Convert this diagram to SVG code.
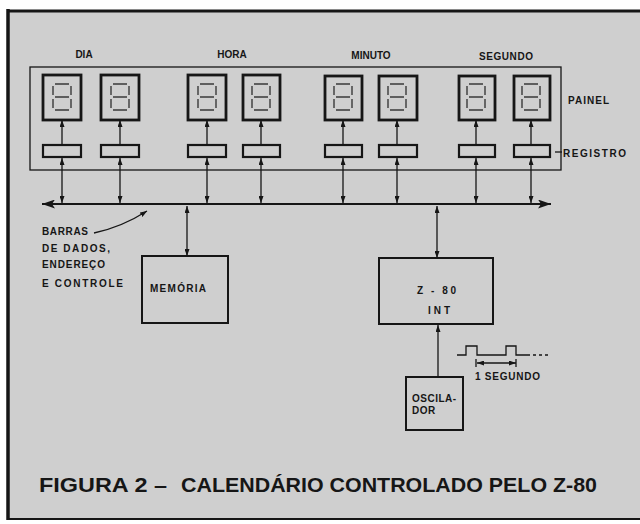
<svg xmlns="http://www.w3.org/2000/svg" width="640" height="524" viewBox="0 0 640 524">
<defs>
<style>
.bx{fill:none;stroke:#161616;stroke-width:2}
.disp{fill:none;stroke:#161616;stroke-width:2.8}
.reg{fill:none;stroke:#161616;stroke-width:2.2}
.seg{fill:none;stroke:#3a3a3a;stroke-width:1.4}
.ln{fill:none;stroke:#161616;stroke-width:1.3}
.t{font-family:"Liberation Sans",Arial,sans-serif;font-weight:bold;fill:#161616;font-size:10px}
.ti{font-family:"Liberation Sans",Arial,sans-serif;font-weight:bold;fill:#161616;font-size:20px}
</style>
<marker id="ah" viewBox="0 0 7 5" markerWidth="7" markerHeight="5" refX="7" refY="2.5" orient="auto-start-reverse" markerUnits="userSpaceOnUse"><path d="M0,0 L7,2.5 L0,5 z" fill="#161616"/></marker>
<marker id="big" viewBox="0 0 13 9" markerWidth="13" markerHeight="9" refX="13" refY="4.5" orient="auto-start-reverse" markerUnits="userSpaceOnUse"><path d="M0,0 L13,4.5 L0,9 L3,4.5 z" fill="#161616"/></marker>
<symbol id="digit" overflow="visible"><path class="seg" d="M2,0H16M0,2V11M18,2V11M2,13H16M0,15V24M18,15V24M2,26H16"/></symbol>
</defs>
<rect x="0" y="0" width="640" height="524" fill="#ffffff"/>
<rect x="8" y="11" width="632" height="508" fill="#cfcfcf"/>
<g id="frame" stroke="#161616" fill="none">
<line x1="8" y1="9" x2="8" y2="520" stroke-width="3.5"/>
<line x1="7" y1="11" x2="640" y2="11" stroke-width="3"/>
<line x1="7" y1="519" x2="640" y2="519" stroke-width="2"/>
</g>
<g id="panel"><rect class="ln" x="30" y="67" width="531" height="103"/></g>
<g id="displays">
<g id="d1"><rect class="disp" x="43" y="75" width="38" height="45"/><use href="#digit" x="53" y="84"/></g>
<g id="d2"><rect class="disp" x="101" y="75" width="38" height="45"/><use href="#digit" x="111" y="84"/></g>
<g id="d3"><rect class="disp" x="188" y="75" width="38" height="45"/><use href="#digit" x="198" y="84"/></g>
<g id="d4"><rect class="disp" x="243" y="75" width="37" height="45"/><use href="#digit" x="252" y="84"/></g>
<g id="d5"><rect class="disp" x="325" y="76" width="37" height="44"/><use href="#digit" x="334" y="84"/></g>
<g id="d6"><rect class="disp" x="379" y="76" width="38" height="44"/><use href="#digit" x="388" y="84"/></g>
<g id="d7"><rect class="disp" x="459" y="76" width="36" height="44"/><use href="#digit" x="467" y="84"/></g>
<g id="d8"><rect class="disp" x="514" y="76" width="36" height="44"/><use href="#digit" x="522" y="84"/></g>
</g>
<g id="registers">
<rect id="r1" class="reg" x="43" y="145" width="38" height="12"/>
<rect id="r2" class="reg" x="101" y="145" width="38" height="12"/>
<rect id="r3" class="reg" x="188" y="145" width="38" height="12"/>
<rect id="r4" class="reg" x="243" y="145" width="37" height="12"/>
<rect id="r5" class="reg" x="325" y="145" width="37" height="12"/>
<rect id="r6" class="reg" x="379" y="145" width="38" height="12"/>
<rect id="r7" class="reg" x="459" y="145" width="36" height="12"/>
<rect id="r8" class="reg" x="514" y="145" width="36" height="12"/>
</g>
<g id="memory"><rect class="bx" x="142" y="256" width="86" height="67"/><text class="t" x="150" y="292" textLength="56">MEMÓRIA</text></g>
<g id="cpu"><rect class="bx" x="379" y="258" width="114" height="66"/><text class="t" x="417" y="294" font-size="11" textLength="39">Z - 80</text><text class="t" x="428" y="314" font-size="11" textLength="22">INT</text></g>
<g id="osc"><rect class="bx" x="406" y="377" width="57" height="53"/><text class="t" x="412" y="402" letter-spacing="0.5">OSCILA-</text><text class="t" x="412" y="414" letter-spacing="0.5">DOR</text></g>
<g id="connectors">
<g class="ln" marker-end="url(#ah)">
<line x1="62" y1="145" x2="62" y2="120"/><line x1="120" y1="145" x2="120" y2="120"/>
<line x1="207" y1="145" x2="207" y2="120"/><line x1="261" y1="145" x2="261" y2="120"/>
<line x1="343" y1="145" x2="343" y2="120"/><line x1="397" y1="145" x2="397" y2="120"/>
<line x1="476" y1="145" x2="476" y2="120"/><line x1="531" y1="145" x2="531" y2="120"/>
</g>
<g class="ln" marker-start="url(#ah)" marker-end="url(#ah)">
<line x1="62" y1="203" x2="62" y2="158"/><line x1="120" y1="203" x2="120" y2="158"/>
<line x1="207" y1="203" x2="207" y2="158"/><line x1="261" y1="203" x2="261" y2="158"/>
<line x1="343" y1="203" x2="343" y2="158"/><line x1="397" y1="203" x2="397" y2="158"/>
<line x1="476" y1="203" x2="476" y2="158"/><line x1="531" y1="203" x2="531" y2="158"/>
<line x1="187" y1="206" x2="187" y2="256"/>
<line x1="437" y1="206" x2="437" y2="258"/>
<line x1="477" y1="363" x2="516" y2="363"/>
</g>
<line class="ln" x1="438" y1="377" x2="438" y2="325" marker-end="url(#ah)"/>
<line x1="42" y1="204" x2="551" y2="204" stroke="#161616" stroke-width="2.2" marker-start="url(#big)" marker-end="url(#big)"/>
<path class="ln" d="M94,233 Q122,227 147,211" marker-end="url(#ah)"/>
<polyline class="ln" points="457,355 466,355 466,346 477,346 477,355 506,355 506,346 516,346 516,355 527,355"/>
<line class="ln" x1="527" y1="355" x2="548" y2="355" stroke-dasharray="3 3"/>
<line class="ln" x1="476" y1="359" x2="476" y2="367"/><line class="ln" x1="516" y1="359" x2="516" y2="367"/>
<line class="ln" x1="555" y1="152" x2="562" y2="152"/>
</g>
<g id="labels">
<text class="t" x="84" y="58" text-anchor="middle">DIA</text>
<text class="t" x="232" y="58" text-anchor="middle">HORA</text>
<text class="t" x="371" y="59" text-anchor="middle">MINUTO</text>
<text class="t" x="506" y="60" text-anchor="middle" textLength="54">SEGUNDO</text>
<text class="t" x="568" y="104" textLength="41">PAINEL</text>
<text class="t" x="563" y="157" textLength="63">REGISTRO</text>
<text class="t" x="42" y="235" textLength="46">BARRAS</text>
<text class="t" x="42" y="252" textLength="68">DE DADOS,</text>
<text class="t" x="42" y="268" textLength="63">ENDEREÇO</text>
<text class="t" x="42" y="287" textLength="81">E CONTROLE</text>
<text class="t" x="475" y="380" textLength="65">1 SEGUNDO</text>
<text class="ti" x="39" y="492" textLength="128" lengthAdjust="spacingAndGlyphs">FIGURA 2 –</text>
<text class="ti" x="181" y="492" textLength="416" lengthAdjust="spacingAndGlyphs">CALENDÁRIO CONTROLADO PELO Z-80</text>
</g>
</svg>
